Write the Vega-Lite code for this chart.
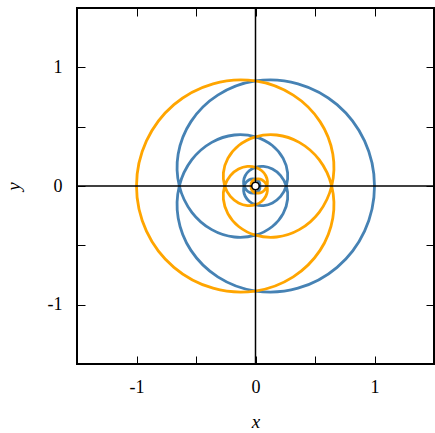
{
  "$schema": "https://vega.github.io/schema/vega-lite/v6.json",
  "width": 357,
  "height": 356,
  "autosize": {"type": "none"},
  "padding": {"left": 77, "top": 8, "right": 1, "bottom": 69},
  "config": {
    "view": {"stroke": "#000", "strokeWidth": 2},
    "axis": {
      "domain": false, "grid": false,
      "tickColor": "#000", "tickWidth": 1, "tickSize": -8,
      "labelColor": "#000", "labelFont": "Liberation Serif", "labelFontSize": 18,
      "titleFont": "Liberation Serif", "titleFontSize": 19, "titleFontWeight": "normal",
      "titleFontStyle": "italic", "titleColor": "#000",
      "values": [-1, -0.5, 0, 0.5, 1]
    }
  },
  "datasets": {
    "curve": [
      {"s":"b","t":-36,"x":0,"y":-0.0213},{"s":"b","t":-35,"x":0.0092,"y":-0.0223},{"s":"b","t":-34,"x":0.0193,"y":-0.0193},{"s":"b","t":-33,"x":0.0285,"y":-0.0118},
      {"s":"b","t":-32,"x":0.0351,"y":0},{"s":"b","t":-31,"x":0.0367,"y":0.0152},{"s":"b","t":-30,"x":0.0318,"y":0.0318},{"s":"b","t":-29,"x":0.0195,"y":0.0471},
      {"s":"b","t":-28,"x":0,"y":0.0578},{"s":"b","t":-27,"x":-0.0251,"y":0.0605},{"s":"b","t":-26,"x":-0.0525,"y":0.0525},{"s":"b","t":-25,"x":-0.0777,"y":0.0322},
      {"s":"b","t":-24,"x":-0.0953,"y":0},{"s":"b","t":-23,"x":-0.0998,"y":-0.0413},{"s":"b","t":-22,"x":-0.0865,"y":-0.0865},{"s":"b","t":-21,"x":-0.053,"y":-0.1281},
      {"s":"b","t":-20,"x":0,"y":-0.1571},{"s":"b","t":-19,"x":0.0681,"y":-0.1645},{"s":"b","t":-18,"x":0.1426,"y":-0.1426},{"s":"b","t":-17,"x":0.2112,"y":-0.0875},
      {"s":"b","t":-16,"x":0.259,"y":0},{"s":"b","t":-15,"x":0.2698,"y":0.1117},{"s":"b","t":-14,"x":0.2324,"y":0.2324},{"s":"b","t":-13,"x":0.1414,"y":0.3413},
      {"s":"b","t":-12,"x":0,"y":0.4144},{"s":"b","t":-11,"x":-0.1781,"y":0.4299},{"s":"b","t":-10,"x":-0.3677,"y":0.3677},{"s":"b","t":-9,"x":-0.5347,"y":0.2215},
      {"s":"b","t":-8,"x":-0.6402,"y":0},{"s":"b","t":-7,"x":-0.6498,"y":-0.2692},{"s":"b","t":-6,"x":-0.5425,"y":-0.5425},{"s":"b","t":-5,"x":-0.3171,"y":-0.7655},
      {"s":"b","t":-4,"x":0,"y":-0.8851},{"s":"b","t":-3,"x":0.3568,"y":-0.8614},{"s":"b","t":-2,"x":0.6855,"y":-0.6855},{"s":"b","t":-1,"x":0.9165,"y":-0.3796},
      {"s":"b","t":0,"x":1,"y":0},
      {"s":"b","t":1,"x":0.9165,"y":0.3796},{"s":"b","t":2,"x":0.6855,"y":0.6855},{"s":"b","t":3,"x":0.3568,"y":0.8614},{"s":"b","t":4,"x":0,"y":0.8851},
      {"s":"b","t":5,"x":-0.3171,"y":0.7655},{"s":"b","t":6,"x":-0.5425,"y":0.5425},{"s":"b","t":7,"x":-0.6498,"y":0.2692},{"s":"b","t":8,"x":-0.6402,"y":0},
      {"s":"b","t":9,"x":-0.5347,"y":-0.2215},{"s":"b","t":10,"x":-0.3677,"y":-0.3677},{"s":"b","t":11,"x":-0.1781,"y":-0.4299},{"s":"b","t":12,"x":0,"y":-0.4144},
      {"s":"b","t":13,"x":0.1414,"y":-0.3413},{"s":"b","t":14,"x":0.2324,"y":-0.2324},{"s":"b","t":15,"x":0.2698,"y":-0.1117},{"s":"b","t":16,"x":0.259,"y":0},
      {"s":"b","t":17,"x":0.2112,"y":0.0875},{"s":"b","t":18,"x":0.1426,"y":0.1426},{"s":"b","t":19,"x":0.0681,"y":0.1645},{"s":"b","t":20,"x":0,"y":0.1571},
      {"s":"b","t":21,"x":-0.053,"y":0.1281},{"s":"b","t":22,"x":-0.0865,"y":0.0865},{"s":"b","t":23,"x":-0.0998,"y":0.0413},{"s":"b","t":24,"x":-0.0953,"y":0},
      {"s":"b","t":25,"x":-0.0777,"y":-0.0322},{"s":"b","t":26,"x":-0.0525,"y":-0.0525},{"s":"b","t":27,"x":-0.0251,"y":-0.0605},{"s":"b","t":28,"x":0,"y":-0.0578},
      {"s":"b","t":29,"x":0.0195,"y":-0.0471},{"s":"b","t":30,"x":0.0318,"y":-0.0318},{"s":"b","t":31,"x":0.0367,"y":-0.0152},{"s":"b","t":32,"x":0.0351,"y":0},
      {"s":"b","t":33,"x":0.0285,"y":0.0118},{"s":"b","t":34,"x":0.0193,"y":0.0193},{"s":"b","t":35,"x":0.0092,"y":0.0223},{"s":"b","t":36,"x":0,"y":0.0213},

      {"s":"o","t":-36,"x":0,"y":0.0213},{"s":"o","t":-35,"x":-0.0092,"y":0.0223},{"s":"o","t":-34,"x":-0.0193,"y":0.0193},{"s":"o","t":-33,"x":-0.0285,"y":0.0118},
      {"s":"o","t":-32,"x":-0.0351,"y":0},{"s":"o","t":-31,"x":-0.0367,"y":-0.0152},{"s":"o","t":-30,"x":-0.0318,"y":-0.0318},{"s":"o","t":-29,"x":-0.0195,"y":-0.0471},
      {"s":"o","t":-28,"x":0,"y":-0.0578},{"s":"o","t":-27,"x":0.0251,"y":-0.0605},{"s":"o","t":-26,"x":0.0525,"y":-0.0525},{"s":"o","t":-25,"x":0.0777,"y":-0.0322},
      {"s":"o","t":-24,"x":0.0953,"y":0},{"s":"o","t":-23,"x":0.0998,"y":0.0413},{"s":"o","t":-22,"x":0.0865,"y":0.0865},{"s":"o","t":-21,"x":0.053,"y":0.1281},
      {"s":"o","t":-20,"x":0,"y":0.1571},{"s":"o","t":-19,"x":-0.0681,"y":0.1645},{"s":"o","t":-18,"x":-0.1426,"y":0.1426},{"s":"o","t":-17,"x":-0.2112,"y":0.0875},
      {"s":"o","t":-16,"x":-0.259,"y":0},{"s":"o","t":-15,"x":-0.2698,"y":-0.1117},{"s":"o","t":-14,"x":-0.2324,"y":-0.2324},{"s":"o","t":-13,"x":-0.1414,"y":-0.3413},
      {"s":"o","t":-12,"x":0,"y":-0.4144},{"s":"o","t":-11,"x":0.1781,"y":-0.4299},{"s":"o","t":-10,"x":0.3677,"y":-0.3677},{"s":"o","t":-9,"x":0.5347,"y":-0.2215},
      {"s":"o","t":-8,"x":0.6402,"y":0},{"s":"o","t":-7,"x":0.6498,"y":0.2692},{"s":"o","t":-6,"x":0.5425,"y":0.5425},{"s":"o","t":-5,"x":0.3171,"y":0.7655},
      {"s":"o","t":-4,"x":0,"y":0.8851},{"s":"o","t":-3,"x":-0.3568,"y":0.8614},{"s":"o","t":-2,"x":-0.6855,"y":0.6855},{"s":"o","t":-1,"x":-0.9165,"y":0.3796},
      {"s":"o","t":0,"x":-1,"y":0},
      {"s":"o","t":1,"x":-0.9165,"y":-0.3796},{"s":"o","t":2,"x":-0.6855,"y":-0.6855},{"s":"o","t":3,"x":-0.3568,"y":-0.8614},{"s":"o","t":4,"x":0,"y":-0.8851},
      {"s":"o","t":5,"x":0.3171,"y":-0.7655},{"s":"o","t":6,"x":0.5425,"y":-0.5425},{"s":"o","t":7,"x":0.6498,"y":-0.2692},{"s":"o","t":8,"x":0.6402,"y":0},
      {"s":"o","t":9,"x":0.5347,"y":0.2215},{"s":"o","t":10,"x":0.3677,"y":0.3677},{"s":"o","t":11,"x":0.1781,"y":0.4299},{"s":"o","t":12,"x":0,"y":0.4144},
      {"s":"o","t":13,"x":-0.1414,"y":0.3413},{"s":"o","t":14,"x":-0.2324,"y":0.2324},{"s":"o","t":15,"x":-0.2698,"y":0.1117},{"s":"o","t":16,"x":-0.259,"y":0},
      {"s":"o","t":17,"x":-0.2112,"y":-0.0875},{"s":"o","t":18,"x":-0.1426,"y":-0.1426},{"s":"o","t":19,"x":-0.0681,"y":-0.1645},{"s":"o","t":20,"x":0,"y":-0.1571},
      {"s":"o","t":21,"x":0.053,"y":-0.1281},{"s":"o","t":22,"x":0.0865,"y":-0.0865},{"s":"o","t":23,"x":0.0998,"y":-0.0413},{"s":"o","t":24,"x":0.0953,"y":0},
      {"s":"o","t":25,"x":0.0777,"y":0.0322},{"s":"o","t":26,"x":0.0525,"y":0.0525},{"s":"o","t":27,"x":0.0251,"y":0.0605},{"s":"o","t":28,"x":0,"y":0.0578},
      {"s":"o","t":29,"x":-0.0195,"y":0.0471},{"s":"o","t":30,"x":-0.0318,"y":0.0318},{"s":"o","t":31,"x":-0.0367,"y":0.0152},{"s":"o","t":32,"x":-0.0351,"y":0},
      {"s":"o","t":33,"x":-0.0285,"y":-0.0118},{"s":"o","t":34,"x":-0.0193,"y":-0.0193},{"s":"o","t":35,"x":-0.0092,"y":-0.0223},{"s":"o","t":36,"x":0,"y":-0.0213}
    ]
  },
  "resolve": {"axis": {"x": "independent", "y": "independent"}},
  "layer": [
    {
      "data": {"name": "curve"},
      "mark": {"type": "line", "strokeWidth": 2.8, "interpolate": "catmull-rom"},
      "encoding": {
        "x": {"field": "x", "type": "quantitative", "scale": {"domain": [-1.5, 1.5], "nice": false, "zero": false},
              "axis": {"orient": "bottom", "title": "x", "labelPadding": 22, "titlePadding": 16,
                       "labelExpr": "datum.value == 0 ? '0' : (datum.value == 1 ? '1' : (datum.value == -1 ? '-1' : ''))"}},
        "y": {"field": "y", "type": "quantitative", "scale": {"domain": [-1.5, 1.5], "nice": false, "zero": false},
              "axis": {"orient": "left", "title": "y", "labelPadding": 23, "titlePadding": 24,
                       "labelExpr": "datum.value == 0 ? '0' : (datum.value == 1 ? '1' : (datum.value == -1 ? '-1' : ''))"}},
        "color": {"field": "s", "type": "nominal", "scale": {"domain": ["b", "o"], "range": ["#4682b4", "#ffa500"]}, "legend": null},
        "order": {"field": "t", "type": "quantitative"}
      }
    },
    {
      "data": {"values": [{"v": 0}]},
      "mark": {"type": "rule", "color": "#000", "strokeWidth": 1.5},
      "encoding": {
        "x": {"field": "v", "type": "quantitative", "scale": {"domain": [-1.5, 1.5], "nice": false, "zero": false},
              "axis": {"orient": "top", "labels": false, "title": null}}
      }
    },
    {
      "data": {"values": [{"v": 0}]},
      "mark": {"type": "rule", "color": "#000", "strokeWidth": 1.5},
      "encoding": {
        "y": {"field": "v", "type": "quantitative", "scale": {"domain": [-1.5, 1.5], "nice": false, "zero": false},
              "axis": {"orient": "right", "labels": false, "title": null}}
      }
    },
    {
      "data": {"values": [{"px": 0, "py": 0}]},
      "mark": {"type": "point", "filled": true, "fill": "#fff", "stroke": "#000", "strokeWidth": 1.5, "size": 55, "opacity": 1},
      "encoding": {
        "x": {"field": "px", "type": "quantitative", "axis": null},
        "y": {"field": "py", "type": "quantitative", "axis": null}
      }
    }
  ]
}
